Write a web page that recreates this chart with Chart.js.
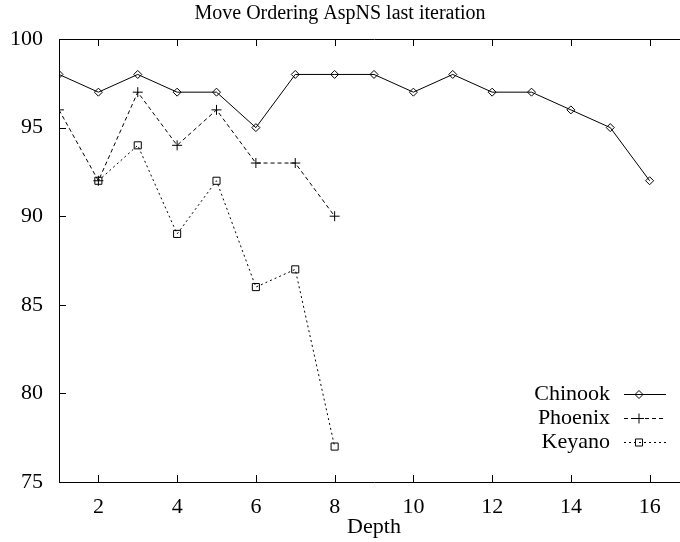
<!DOCTYPE html>
<html>
<head>
<meta charset="utf-8">
<script src="https://cdn.jsdelivr.net/npm/chart.js@4/dist/chart.umd.min.js"></script>
<style>
  html, body { margin: 0; padding: 0; background: #fff; overflow: hidden; }
  #wrap { width: 700px; height: 542px; }
</style>
</head>
<body>
<div id="wrap"><canvas id="myChart" width="700" height="542"></canvas></div>
<script>
const depths = [1, 2, 3, 4, 5, 6, 7, 8, 9, 10, 11, 12, 13, 14, 15, 16]
const chinook = [98, 97, 98, 97, 97, 95, 98, 98, 98, 97, 98, 97, 97, 96, 95, 92]
const phoenix = [96, 92, 97, 94, 96, 93, 93, 90]
const keyano = [null, 92, 94, 89, 92, 86, 87, 77]
const xTicks = [2, 4, 6, 8, 10, 12, 14, 16]
const yTicks = [75, 80, 85, 90, 95, 100]
const titleText = 'Move Ordering AspNS last iteration'

const serif = "'Liberation Serif', 'Times New Roman', serif"

function toPoints(values) {
    return values.map((v, i) => ({ x: depths[i], y: v }))
}

// frame + inward ticks like gnuplot
const framePlugin = {
    id: 'frame',
    afterDatasetsDraw(chart) {
        const { ctx, chartArea: a, scales } = chart
        ctx.save()
        ctx.strokeStyle = '#000'
        ctx.lineWidth = 1
        ctx.beginPath()
        ctx.rect(a.left + 0.5, a.top + 0.5, a.right - a.left, a.bottom - a.top)
        xTicks.forEach((t) => {
            const px = Math.round(scales.x.getPixelForValue(t)) + 0.5
            ctx.moveTo(px, a.bottom)
            ctx.lineTo(px, a.bottom - 7)
            ctx.moveTo(px, a.top)
            ctx.lineTo(px, a.top + 7)
        })
        yTicks.forEach((t) => {
            const py = Math.round(scales.y.getPixelForValue(t)) + 0.5
            ctx.moveTo(a.left, py)
            ctx.lineTo(a.left + 7, py)
            ctx.moveTo(a.right, py)
            ctx.lineTo(a.right - 7, py)
        })
        ctx.stroke()

        // title, centred on the picture
        ctx.fillStyle = '#000'
        ctx.font = '20px ' + serif
        ctx.textAlign = 'center'
        ctx.textBaseline = 'middle'
        ctx.fillText(titleText, 340, 14)

        // key, bottom right
        ctx.font = '22px ' + serif
        ctx.textAlign = 'right'
        chart.data.datasets.forEach((ds, i) => {
            const y = 394 + i * 24
            ctx.fillStyle = '#000'
            ctx.fillText(ds.label, 610, y)
            ctx.beginPath()
            ctx.setLineDash(ds.borderDash || [])
            ctx.moveTo(624, y + 0.5)
            ctx.lineTo(666, y + 0.5)
            ctx.stroke()
            ctx.setLineDash([])
            ctx.fillStyle = 'rgba(0,0,0,0)'
            Chart.helpers.drawPoint(ctx, {
                pointStyle: ds.pointStyle,
                radius: ds.pointRadius,
                borderWidth: 1
            }, 639, y + 0.5)
        })
        ctx.restore()
    }
}

const ctx = document.getElementById('myChart').getContext('2d')
const myChart = new Chart(ctx, {
    type: 'line',
    data: {
        datasets: [
            {
                label: 'Chinook',
                data: toPoints(chinook),
                borderColor: '#000',
                borderWidth: 1,
                pointStyle: 'rectRot',
                pointRadius: 4,
                pointBorderColor: '#000',
                pointBackgroundColor: 'rgba(0,0,0,0)',
                pointBorderWidth: 1,
                tension: 0
            },
            {
                label: 'Phoenix',
                data: toPoints(phoenix),
                borderColor: '#000',
                borderWidth: 1,
                borderDash: [4, 3],
                pointStyle: 'cross',
                pointRadius: 5,
                pointBorderColor: '#000',
                pointBorderWidth: 1,
                tension: 0
            },
            {
                label: 'Keyano',
                data: toPoints(keyano),
                borderColor: '#000',
                borderWidth: 1,
                borderDash: [2, 3],
                pointStyle: 'rect',
                pointRadius: 5,
                pointBorderColor: '#000',
                pointBackgroundColor: 'rgba(0,0,0,0)',
                pointBorderWidth: 1,
                tension: 0
            }
        ]
    },
    options: {
        responsive: false,
        animation: false,
        layout: { padding: { top: 39, right: 11, left: 0, bottom: 0 } },
        plugins: {
            legend: { display: false },
            title: { display: false },
            tooltip: { enabled: false }
        },
        scales: {
            x: {
                type: 'linear',
                min: 1,
                max: 17,
                afterFit: (s) => { s.height = 60 },
                afterBuildTicks: (s) => { s.ticks = xTicks.map((v) => ({ value: v })) },
                grid: { display: false, drawTicks: false },
                border: { display: false },
                ticks: {
                    color: '#000',
                    padding: 12,
                    maxRotation: 0,
                    font: { family: serif, size: 22 }
                },
                title: {
                    display: true,
                    text: 'Depth',
                    color: '#000',
                    padding: { top: 0, bottom: 2 },
                    font: { family: serif, size: 22 }
                }
            },
            y: {
                min: 75,
                max: 100,
                afterFit: (s) => { s.width = 59 },
                afterBuildTicks: (s) => { s.ticks = yTicks.map((v) => ({ value: v })) },
                grid: { display: false, drawTicks: false },
                border: { display: false },
                ticks: {
                    color: '#000',
                    padding: 16,
                    font: { family: serif, size: 22 }
                }
            }
        }
    },
    plugins: [framePlugin]
})
</script>
</body>
</html>
